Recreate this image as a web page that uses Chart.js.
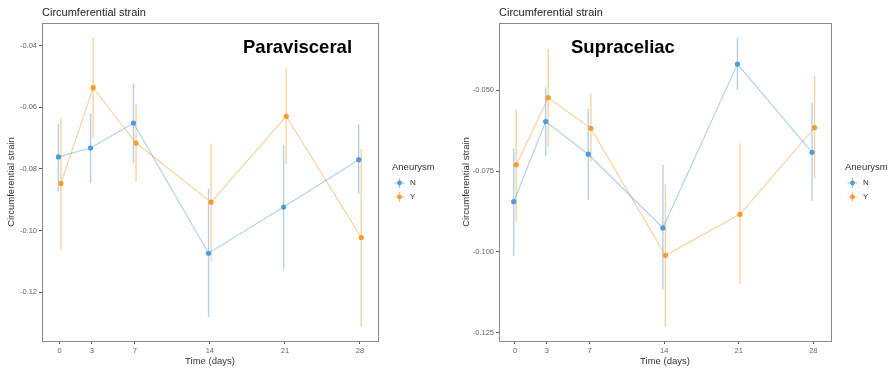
<!DOCTYPE html>
<html>
<head>
<meta charset="utf-8">
<script src="https://cdn.jsdelivr.net/npm/chart.js@4.4.1/dist/chart.umd.min.js"></script>
<style>
  html, body { margin: 0; padding: 0; background: #fff; }
  #wrap { position: relative; width: 889px; height: 370px; }
  canvas { position: absolute; top: 0; }
</style>
</head>
<body>
<div id="wrap">
  <canvas id="para" width="445" height="370" style="left:0"></canvas>
  <canvas id="supra" width="444" height="370" style="left:445px"></canvas>
</div>
<script>
// sampling days
const days = [0, 3, 7, 14, 21, 28];
const groups = ['N', 'Y'];

// Paravisceral: mean and error bar limits
const paraN = [-0.0761, -0.0732, -0.0651, -0.1074, -0.0924, -0.0770];
const paraNLow = [-0.0873, -0.0845, -0.0781, -0.1281, -0.1126, -0.0881];
const paraNHigh = [-0.0654, -0.0620, -0.0523, -0.0864, -0.0721, -0.0656];
const paraY = [-0.0847, -0.0536, -0.0716, -0.0908, -0.0629, -0.1023];
const paraYLow = [-0.1061, -0.0698, -0.0841, -0.1101, -0.0784, -0.1312];
const paraYHigh = [-0.0637, -0.0373, -0.0589, -0.0718, -0.0474, -0.0735];

// Supraceliac: mean and error bar limits
const supraN = [-0.0845, -0.0597, -0.0698, -0.0926, -0.0419, -0.0692];
const supraNLow = [-0.1011, -0.0704, -0.0840, -0.1117, -0.0500, -0.0842];
const supraNHigh = [-0.0681, -0.0492, -0.0557, -0.0731, -0.0337, -0.0538];
const supraY = [-0.0731, -0.0523, -0.0618, -0.1011, -0.0884, -0.0616];
const supraYLow = [-0.0907, -0.0675, -0.0722, -0.1233, -0.1100, -0.0773];
const supraYHigh = [-0.0557, -0.0372, -0.0511, -0.0791, -0.0665, -0.0456];

const paraYTicks = [-0.12, -0.10, -0.08, -0.06, -0.04];
const supraYTicks = [-0.125, -0.100, -0.075, -0.050];

const BLUE = '#4f9bd9';
const ORANGE = '#f79b2f';
const BLUE_A = 'rgba(79, 155, 217, 0.45)';
const ORANGE_A = 'rgba(247, 155, 47, 0.45)';
const FONT = '"Liberation Sans", Arial, sans-serif';
const dodge = 0.12;

// vertical error bars behind the points
const errorBars = {
    id: 'errorBars',
    beforeDatasetsDraw(chart) {
        const ctx = chart.ctx;
        const y = chart.scales.y;
        chart.data.datasets.forEach((ds, di) => {
            const meta = chart.getDatasetMeta(di);
            ctx.save();
            ctx.strokeStyle = ds.errColor;
            ctx.lineWidth = 1.4;
            ds.low.forEach((lo, i) => {
                const x = meta.data[i].x;
                ctx.beginPath();
                ctx.moveTo(x, y.getPixelForValue(lo));
                ctx.lineTo(x, y.getPixelForValue(ds.high[i]));
                ctx.stroke();
            });
            ctx.restore();
        });
    }
};

// panel frame, titles and legend
const decor = {
    id: 'decor',
    afterDraw(chart) {
        const ctx = chart.ctx;
        const a = chart.chartArea;
        const o = chart.options.plugins.decor;
        ctx.save();
        ctx.strokeStyle = '#8a8a8a';
        ctx.lineWidth = 1;
        ctx.strokeRect(Math.round(a.left) + 0.5, Math.round(a.top) + 0.5,
            Math.round(a.right - a.left), Math.round(a.bottom - a.top));

        ctx.fillStyle = '#222';
        ctx.textBaseline = 'middle';
        ctx.textAlign = 'left';
        ctx.font = '11px ' + FONT;
        ctx.fillText('Circumferential strain', a.left, 13);

        ctx.fillStyle = '#000';
        ctx.font = 'bold 18.5px ' + FONT;
        ctx.fillText(o.label, o.labelX, 48);

        ctx.fillStyle = '#333';
        ctx.font = '9.5px ' + FONT;
        ctx.textAlign = 'center';
        ctx.fillText('Time (days)', (a.left + a.right) / 2, 361.5);
        ctx.save();
        ctx.translate(o.yTitleX, (a.top + a.bottom) / 2);
        ctx.rotate(-Math.PI / 2);
        ctx.fillText('Circumferential strain', 0, 0);
        ctx.restore();

        // legend
        const lx = a.right + 14;
        ctx.textAlign = 'left';
        ctx.font = '9.5px ' + FONT;
        ctx.fillStyle = '#333';
        ctx.fillText('Aneurysm', lx, 167);
        const cols = [BLUE, ORANGE];
        groups.forEach((g, i) => {
            const cy = 183 + i * 14;
            const cx = lx + 7.5;
            ctx.strokeStyle = cols[i];
            ctx.globalAlpha = 0.6;
            ctx.lineWidth = 1.2;
            ctx.beginPath();
            ctx.moveTo(cx - 5, cy); ctx.lineTo(cx + 5, cy);
            ctx.moveTo(cx, cy - 5); ctx.lineTo(cx, cy + 5);
            ctx.stroke();
            ctx.globalAlpha = 1;
            ctx.fillStyle = cols[i];
            ctx.beginPath();
            ctx.arc(cx, cy, 2.4, 0, Math.PI * 2);
            ctx.fill();
            ctx.fillStyle = '#333';
            ctx.font = '8px ' + FONT;
            ctx.fillText(g, lx + 18, cy);
        });
        ctx.restore();
    }
};

function series(means, low, high, off, color, light, label) {
    return {
        label: label,
        data: days.map((d, i) => ({ x: d + off, y: means[i] })),
        low: low,
        high: high,
        errColor: light,
        showLine: true,
        borderColor: light,
        borderWidth: 1.2,
        pointRadius: 2.6,
        pointBackgroundColor: color,
        pointBorderWidth: 0
    };
}

function makePanel(id, o) {
    new Chart(document.getElementById(id), {
        type: 'scatter',
        data: {
            datasets: [
                series(o.n, o.nLow, o.nHigh, -dodge, BLUE, BLUE_A, 'N'),
                series(o.y, o.yLow, o.yHigh, dodge, ORANGE, ORANGE_A, 'Y')
            ]
        },
        options: {
            responsive: false,
            animation: false,
            devicePixelRatio: 1,
            layout: { padding: { top: o.top, right: o.right, left: 0, bottom: 0 } },
            plugins: {
                legend: { display: false },
                tooltip: { enabled: false },
                decor: o
            },
            scales: {
                x: {
                    type: 'linear',
                    min: o.xMin,
                    max: o.xMax,
                    afterFit: (s) => { s.height = o.xAxisH; },
                    afterBuildTicks: (s) => { s.ticks = days.map(v => ({ value: v })); },
                    border: { display: false },
                    grid: { drawOnChartArea: false, tickLength: 3, color: '#555' },
                    ticks: {
                        color: '#666', padding: 2, maxRotation: 0,
                        font: { family: FONT, size: 7.5 },
                        callback: (v) => String(v)
                    }
                },
                y: {
                    min: o.yMin,
                    max: o.yMax,
                    afterFit: (s) => { s.width = o.yAxisW; },
                    afterBuildTicks: (s) => { s.ticks = o.yTicks.map(v => ({ value: v })); },
                    border: { display: false },
                    grid: { drawOnChartArea: false, tickLength: 3, color: '#555' },
                    ticks: {
                        color: '#666', padding: 2,
                        font: { family: FONT, size: 7.5 },
                        callback: (v) => v.toFixed(o.digits)
                    }
                }
            }
        },
        plugins: [errorBars, decor]
    });
}

makePanel('para', {
    n: paraN, nLow: paraNLow, nHigh: paraNHigh,
    y: paraY, yLow: paraYLow, yHigh: paraYHigh,
    yTicks: paraYTicks, digits: 2,
    xMin: -1.65, xMax: 29.68, yMin: -0.1359, yMax: -0.0326,
    top: 23, right: 67, yAxisW: 42, xAxisH: 29,
    label: 'Paravisceral', labelX: 243, yTitleX: 11
});

makePanel('supra', {
    n: supraN, nLow: supraNLow, nHigh: supraNHigh,
    y: supraY, yLow: supraYLow, yHigh: supraYHigh,
    yTicks: supraYTicks, digits: 3,
    xMin: -1.5, xMax: 29.66, yMin: -0.1276, yMax: -0.0292,
    top: 23, right: 58, yAxisW: 54, xAxisH: 29,
    label: 'Supraceliac', labelX: 126, yTitleX: 21
});
</script>
</body>
</html>
